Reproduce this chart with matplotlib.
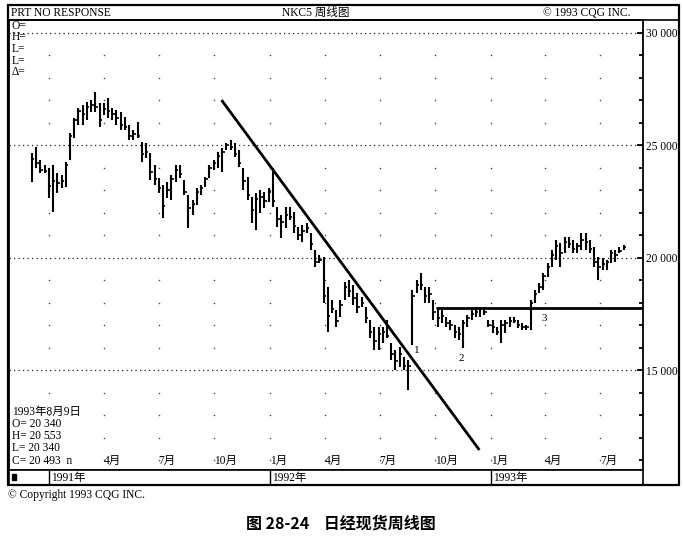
import matplotlib
matplotlib.use('Agg')
import matplotlib.pyplot as plt
import pandas as pd
from matplotlib.patches import Rectangle
from matplotlib.lines import Line2D

# ---------------- data ----------------
start_week = '1990-12-03'
highs = [24650, 24910, 24330, 24110, 23980, 24110, 23760, 23670, 24250, 25530,
         26200, 26650, 26780, 26910, 27000, 27360, 26870, 26870, 27090, 26650,
         26560, 26470, 26250, 25890, 25670, 26020, 25130, 25090, 24650, 24110,
         23530, 23220, 23360, 23670, 24110, 24110, 23450, 22780, 22560, 23090,
         23220, 23580, 24110, 24330, 24690, 24870, 25090, 25220, 25090, 24780,
         23980, 23580, 22690, 22870, 23000, 22910, 23090, 23980, 22250, 21890,
         22250, 22250, 22020, 21360, 21450, 21530, 21090, 20330, 20110, 20020,
         18690, 18110, 17670, 18110, 18910, 19000, 18780, 18420, 18250, 17800,
         17220, 16910, 16910, 16910, 17220, 16200, 15890, 16020, 15580, 15450,
         18560, 19000, 19310, 18690, 18690, 18110, 17800, 17670, 17360, 17220,
         17000, 16910, 17220, 17450, 17670, 17800, 17800, 17800, 17220, 17220,
         16910, 17220, 17220, 17360, 17360, 17220, 17090, 17000, 18110, 18560,
         18870, 19310, 19760, 20330, 20780, 20650, 20910, 20910, 20780, 20650,
         21090, 21090, 20780, 20470, 20020, 19980, 19890, 20330, 20330, 20470,
         20553]
lows = [23360, 23980, 23760, 23760, 22650, 22020, 22870, 23090, 23130, 24330,
        25310, 25890, 25890, 26110, 26470, 26470, 25800, 26330, 26200, 26110,
        25890, 25670, 25670, 25220, 25220, 25310, 24250, 24420, 23450, 23220,
        22870, 21760, 22650, 22560, 23360, 23530, 22780, 21310, 21890, 22330,
        22780, 23130, 23530, 23890, 23980, 23800, 24780, 24780, 24470, 24020,
        23000, 22560, 21530, 21220, 21980, 22200, 22470, 22250, 21360, 20870,
        21310, 21670, 21090, 20780, 20690, 21090, 20330, 19580, 19760, 17980,
        16690, 17530, 16910, 17360, 18110, 18250, 17890, 17530, 17800, 17090,
        16420, 15890, 15890, 16200, 16420, 15450, 15000, 15130, 15000, 14110,
        16110, 18420, 18560, 17980, 17980, 17220, 16910, 17090, 16910, 16780,
        16420, 16330, 15980, 16910, 17220, 17360, 17360, 17450, 16910, 16650,
        16560, 16200, 16650, 16910, 17090, 16870, 16780, 16780, 16780, 17980,
        18420, 18560, 19130, 19580, 19890, 19580, 20200, 20420, 20200, 20200,
        20330, 20330, 20200, 19580, 19000, 19440, 19440, 19760, 19800, 20200,
        20340]
closes = [24400, 24200, 23900, 23850, 23200, 23400, 23300, 23400, 24100, 25400,
          26100, 26500, 26400, 26700, 26800, 26700, 26100, 26600, 26500, 26400,
          26200, 25900, 25800, 25400, 25500, 25400, 24600, 24700, 23800, 23500,
          23100, 22300, 23000, 23500, 23900, 23700, 22900, 22200, 22400, 22900,
          23100, 23500, 24000, 24200, 24500, 24700, 25000, 24900, 24600, 24200,
          23400, 22800, 22100, 22600, 22700, 22500, 22900, 22500, 21700, 21600,
          21900, 21800, 21400, 21000, 21200, 21300, 20600, 19800, 19900, 18300,
          17400, 17700, 17200, 17900, 18700, 18500, 18200, 17800, 18000, 17300,
          16700, 16300, 16600, 16700, 16500, 15700, 15400, 15700, 15200, 15200,
          18300, 18800, 18800, 18300, 18400, 17600, 17300, 17400, 17100, 17000,
          16700, 16600, 17100, 17300, 17500, 17600, 17700, 17600, 17000, 16900,
          16700, 17000, 17100, 17200, 17200, 17000, 16900, 16900, 18000, 18400,
          18700, 19200, 19600, 20100, 20500, 20200, 20700, 20600, 20400, 20500,
          20800, 20700, 20400, 19800, 19600, 19700, 19800, 20200, 20100, 20300,
          20493]

trend_dates = ['1991-10-13', '1992-12-13']
trend_values = [27000, 11450]
neckline_start = '1992-10-03'
neckline_value = 17770

wave_labels = ['1', '2', '3']
wave_dates = ['1992-08-31', '1992-11-13', '1993-03-31']
wave_values = [15890, 15530, 17310]

month_labels = ['4月', '7月', '10月', '1月', '4月', '7月', '10月', '1月', '4月', '7月']
month_dates = ['1991-04-01', '1991-07-01', '1991-10-01', '1992-01-01', '1992-04-01',
               '1992-07-01', '1992-10-01', '1993-01-01', '1993-04-01', '1993-07-01']
year_labels = ['1991年', '1992年', '1993年']
year_dates = ['1991-01-01', '1992-01-01', '1993-01-01']

price_ticks = [15000, 20000, 25000, 30000]
price_tick_labels = ['15 000', '20 000', '25 000', '30 000']

# ---------------- figure ----------------
plt.rcParams['font.family'] = ['Liberation Serif', 'Noto Sans CJK SC', 'DejaVu Sans']
W, H = 683, 540
fig = plt.figure(figsize=(W / 100, H / 100), dpi=100)


def fx(px):
    return px / W


def fy(py):
    return 1 - py / H


x_left = pd.Timestamp('1990-10-26')
x_right = pd.Timestamp('1993-09-10')

ax = fig.add_axes([fx(9), fy(470), fx(643) - fx(9), fy(20) - fy(470)])
dates = pd.date_range(start_week, periods=len(highs), freq='7D')

ax.vlines(dates, lows, highs, color='black', lw=1.5)
ax.hlines(closes, dates, dates + pd.Timedelta(days=4), color='black', lw=1.2)

ax.set_xlim(x_left, x_right)
ax.set_ylim(10560, 30560)

# dotted grid lines
for v in price_ticks:
    ax.axhline(v, color='#222222', lw=0.9, ls=(0, (1, 2.6)), zorder=0)

# dot grid at quarter starts / 1000 levels
qdates = pd.to_datetime(['1991-01-01'] + month_dates)
levels = [v for v in range(11000, 30001, 1000) if v % 5000 != 0]
for d in qdates:
    ax.scatter([d] * len(levels), levels, s=1.2, color='#444444', zorder=0, lw=0)

# trend line and neckline
ax.plot(pd.to_datetime(trend_dates), trend_values, color='black', lw=2.0, solid_capstyle='butt')
ax.plot([pd.Timestamp(neckline_start), x_right], [neckline_value, neckline_value],
        color='black', lw=2.0, solid_capstyle='butt')

for lab, d, v in zip(wave_labels, wave_dates, wave_values):
    ax.text(pd.Timestamp(d), v, lab, fontsize=8, ha='center', va='center')

# axes styling
ax.yaxis.tick_right()
ax.set_yticks(price_ticks)
ax.set_yticklabels(price_tick_labels, fontsize=8.3)
ax.set_yticks(list(range(11000, 30001, 1000)), minor=True)
ax.tick_params(axis='y', which='major', direction='in', length=4, width=1.3, pad=2, right=True, left=False)
ax.tick_params(axis='y', which='minor', direction='in', length=3, width=1.3, right=True, left=False)
ax.tick_params(axis='x', which='both', bottom=False, labelbottom=False)
for s in ax.spines.values():
    s.set_linewidth(1.3)

for lab, d in zip(month_labels, month_dates):
    ax.text(pd.Timestamp(d), 0.02, lab, transform=ax.get_xaxis_transform(),
            fontsize=8.3, ha='left', va='center')

# year row
yax = fig.add_axes([fx(9), fy(485), fx(643) - fx(9), fy(470) - fy(485)], sharex=ax)
yax.set_ylim(0, 1)
yax.tick_params(left=False, bottom=False, labelleft=False, labelbottom=False)
for s in yax.spines.values():
    s.set_linewidth(1.2)
for lab, d in zip(year_labels, year_dates):
    t = pd.Timestamp(d)
    yax.axvline(t, color='black', lw=1.0)
    yax.text(t + pd.Timedelta(days=3), 0.5, lab, fontsize=8.3, ha='left', va='center')
fig.add_artist(Rectangle((fx(12), fy(480)), fx(16) - fx(12), fy(474) - fy(480),
                         transform=fig.transFigure, color='black'))

# outer frame and header
fig.add_artist(Rectangle((fx(8), fy(485)), fx(679) - fx(8), fy(5) - fy(485),
                         transform=fig.transFigure, fill=False, lw=1.6, color='black'))
fig.add_artist(Line2D([fx(8), fx(679)], [fy(20), fy(20)], transform=fig.transFigure,
                      color='black', lw=1.2))

fig.text(fx(11), fy(12.5), 'PRT NO RESPONSE', fontsize=8.3, va='center', ha='left')
fig.text(fx(282), fy(12.5), 'NKC5 周线图', fontsize=8.3, va='center', ha='left')
fig.text(fx(543), fy(12.5), '© 1993 CQG INC.', fontsize=8.3, va='center', ha='left')

for lab, yy in zip(['O=', 'H=', 'L=', 'L=', 'Δ='], [26, 37.5, 49, 60.5, 72]):
    fig.text(fx(12), fy(yy), lab, fontsize=8.3, va='center', ha='left')

for lab, yy in zip(['1993年8月9日', 'O= 20 340', 'H= 20 553', 'L= 20 340', 'C= 20 493  n'],
                   [412, 424, 436, 448, 461]):
    fig.text(fx(12), fy(yy), lab, fontsize=8.3, va='center', ha='left')

fig.text(fx(8), fy(495), '© Copyright 1993 CQG INC.', fontsize=8.3, va='center', ha='left')
fig.text(fx(341), fy(524), '图 28-24    日经现货周线图', fontsize=11.5, va='center', ha='center',
         family=['Noto Sans CJK SC', 'DejaVu Sans'], weight='bold')

fig.savefig('out.png', dpi=100)
